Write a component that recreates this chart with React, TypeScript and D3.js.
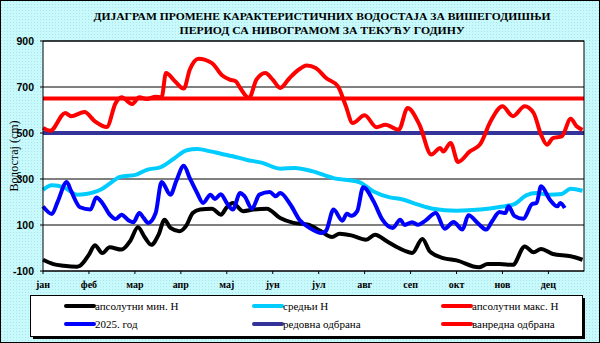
import React from "react";
import * as d3 from "d3";

const width = 600;
const height = 343;
const margin = { top: 41, right: 16, bottom: 72, left: 43 };

const months = ["јан", "феб", "мар", "апр", "мај", "јун", "јул", "авг", "сеп", "окт", "нов", "дец"];
const yTicks = [-100, 100, 300, 500, 700, 900];

// [day of year, water level in cm]
const minLevel: [number, number][] = [
  [0, -51], [7, -70], [14, -77], [23, -81], [25, -77], [31, -29], [35, 12], [40, -22], [45, 3],
  [53, -7], [59, 32], [64, 90], [69, 43], [73, 14], [78, 58], [82, 123], [86, 87], [92, 73],
  [97, 101], [101, 152], [106, 167], [114, 171], [120, 145], [124, 177], [128, 196], [135, 160],
  [142, 167], [151, 171], [160, 130], [169, 109], [179, 101], [187, 75], [195, 48], [200, 62],
  [208, 55], [218, 36], [224, 58], [232, 29], [239, 3], [244, -12], [249, -22], [256, 39],
  [261, -15], [270, -44], [279, -54], [294, -84], [300, -70], [308, -70], [317, -73], [325, 7],
  [331, -19], [336, -4], [344, -26], [356, -36], [364, -51],
];

const meanLevel: [number, number][] = [
  [0, 253], [6, 273], [14, 264], [23, 232], [29, 235], [40, 258], [45, 280], [52, 309], [63, 319],
  [70, 340], [79, 351], [88, 387], [97, 425], [104, 430], [113, 420], [120, 410], [128, 399],
  [137, 384], [148, 370], [160, 345], [170, 348], [182, 333], [196, 304], [213, 287], [223, 246],
  [234, 220], [242, 212], [252, 191], [263, 171], [279, 162], [295, 167], [308, 178], [318, 191],
  [326, 229], [333, 239], [341, 232], [350, 235], [356, 258], [364, 249],
];

const maxLevel: [number, number][] = [
  [0, 522], [5, 510], [15, 587], [19, 573], [28, 591], [35, 551], [43, 526], [49, 630], [53, 655],
  [60, 626], [65, 655], [70, 648], [76, 658], [80, 655], [83, 761], [89, 725], [95, 693], [99, 775],
  [105, 823], [114, 804], [121, 750], [126, 732], [130, 725], [133, 696], [139, 652], [144, 732],
  [150, 761], [155, 732], [160, 696], [166, 736], [171, 768], [178, 794], [184, 783], [191, 739],
  [199, 703], [204, 623], [209, 543], [217, 577], [225, 525], [231, 536], [240, 514], [246, 609],
  [254, 536], [262, 406], [268, 435], [270, 420], [275, 457], [280, 374], [288, 420], [295, 452],
  [302, 551], [310, 616], [317, 573], [325, 616], [331, 587], [336, 493], [340, 449], [344, 478],
  [350, 485], [356, 562], [360, 529], [364, 514],
];

const year2025: [number, number][] = [
  [0, 181], [6, 148], [10, 203], [16, 287], [19, 247], [25, 177], [32, 167], [36, 220], [40, 196],
  [45, 145], [49, 126], [53, 145], [58, 119], [61, 112], [65, 152], [68, 130], [71, 109], [76, 152],
  [80, 287], [86, 232], [90, 293], [95, 358], [99, 304], [104, 239], [108, 196], [113, 232],
  [116, 213], [120, 234], [124, 196], [128, 167], [133, 239], [136, 225], [141, 171], [146, 232],
  [153, 243], [157, 225], [160, 239], [167, 188], [173, 123], [180, 87], [188, 65], [191, 75],
  [196, 167], [202, 119], [205, 149], [208, 140], [212, 160], [216, 264], [223, 203], [229, 123],
  [236, 87], [241, 123], [244, 100], [249, 112], [253, 101], [258, 119], [265, 152], [271, 84],
  [277, 113], [283, 80], [287, 142], [294, 104], [299, 80], [303, 116], [308, 156], [312, 152],
  [314, 181], [318, 140], [324, 127], [330, 191], [333, 196], [336, 268], [342, 210], [347, 181],
  [349, 196], [352, 174],
];

const regularDefence = 500;
const emergencyDefence = 650;

const legendItems = [
  { label: "апсолутни мин. Н", color: "#000000" },
  { label: "средњи Н", color: "#00ccff" },
  { label: "апсолутни макс. Н", color: "#ff0000" },
  { label: "2025. год", color: "#0000ff" },
  { label: "редовна одбрана", color: "#333399" },
  { label: "ванредна одбрана", color: "#ff0000" },
];

const x = d3.scaleLinear().domain([0, 365]).range([margin.left, width - margin.right]);
const y = d3.scaleLinear().domain([-100, 900]).range([height - margin.bottom, margin.top]);

const line = d3
  .line<[number, number]>()
  .x(d => x(d[0]))
  .y(d => y(d[1]))
  .curve(d3.curveMonotoneX);

const serif = "'Liberation Serif', 'Times New Roman', serif";
const sans = "'Liberation Sans', Arial, sans-serif";

export default function App() {
  const plotW = width - margin.left - margin.right;
  const plotH = height - margin.top - margin.bottom;
  const bottom = height - margin.bottom;
  const legendCols = [66, 254, 443];
  const legendRows = [306, 324];

  return (
    <svg
      width={width}
      height={height}
      style={{ position: "absolute", left: 0, top: 0, display: "block" }}
    >
      <defs>
        <pattern id="dots" width="3" height="3" patternUnits="userSpaceOnUse">
          <rect width="3" height="3" fill="#c8fafc" />
          <rect x="1" y="1" width="1" height="1" fill="#a8e4f0" />
        </pattern>
      </defs>
      <rect x={0.5} y={0.5} width={width - 1} height={height - 1} fill="url(#dots)" stroke="#000" />

      <g fontFamily={serif} fontWeight="bold" fontSize={11} textAnchor="middle">
        <text x={322} y={20} textLength={457} lengthAdjust="spacingAndGlyphs">
          ДИЈАГРАМ ПРОМЕНЕ КАРАКТЕРИСТИЧНИХ ВОДОСТАЈА ЗА ВИШЕГОДИШЊИ
        </text>
        <text x={322} y={34} textLength={285} lengthAdjust="spacingAndGlyphs">
          ПЕРИОД СА НИВОГРАМОМ ЗА ТЕКУЋУ ГОДИНУ
        </text>
      </g>

      <rect x={margin.left} y={margin.top} width={plotW} height={plotH} fill="#fff" />

      {yTicks.map(t => (
        <g key={t}>
          <line x1={margin.left} x2={width - margin.right} y1={y(t)} y2={y(t)} stroke="#000" strokeWidth={1} />
          <line x1={margin.left - 3} x2={margin.left} y1={y(t)} y2={y(t)} stroke="#000" />
          <text
            x={margin.left - 9}
            y={y(t) + 4}
            textAnchor="end"
            fontFamily={sans}
            fontWeight="bold"
            fontSize={10.5}
          >
            {t}
          </text>
        </g>
      ))}

      {months.map((m, i) => (
        <g key={m}>
          <line x1={x(i * 31)} x2={x(i * 31)} y1={bottom} y2={bottom + 3} stroke="#000" />
          <text x={x(i * 31)} y={bottom + 17} textAnchor="middle" fontFamily={serif} fontWeight="bold" fontSize={10}>
            {m}
          </text>
        </g>
      ))}

      <text
        transform={`translate(18, ${(margin.top + bottom) / 2}) rotate(-90)`}
        textAnchor="middle"
        fontFamily={serif}
        fontSize={12}
      >
        Водостај (cm)
      </text>

      <line x1={x(0)} x2={x(365)} y1={y(emergencyDefence)} y2={y(emergencyDefence)} stroke="#ff0000" strokeWidth={4} />
      <line x1={x(0)} x2={x(365)} y1={y(regularDefence)} y2={y(regularDefence)} stroke="#333399" strokeWidth={4} />

      <path d={line(maxLevel) ?? ""} fill="none" stroke="#ff0000" strokeWidth={4} strokeLinejoin="round" />
      <path d={line(meanLevel) ?? ""} fill="none" stroke="#00ccff" strokeWidth={4} strokeLinejoin="round" />
      <path d={line(minLevel) ?? ""} fill="none" stroke="#000000" strokeWidth={4} strokeLinejoin="round" />
      <path d={line(year2025) ?? ""} fill="none" stroke="#0000ff" strokeWidth={4} strokeLinejoin="round" />

      <rect x={margin.left} y={margin.top} width={plotW} height={plotH} fill="none" stroke="#000" />

      <rect x={33} y={298} width={552} height={41} fill="#000" />
      <rect x={30.5} y={295.5} width={552} height={41} fill="#fff" stroke="#000" />
      {legendItems.map((d, i) => {
        const cx = legendCols[i % 3];
        const cy = legendRows[Math.floor(i / 3)];
        return (
          <g key={d.label}>
            <line x1={cx} x2={cx + 28} y1={cy} y2={cy} stroke={d.color} strokeWidth={4} strokeLinecap="round" />
            <text x={cx + 29} y={cy + 4} fontFamily={serif} fontSize={11}>
              {d.label}
            </text>
          </g>
        );
      })}
    </svg>
  );
}
